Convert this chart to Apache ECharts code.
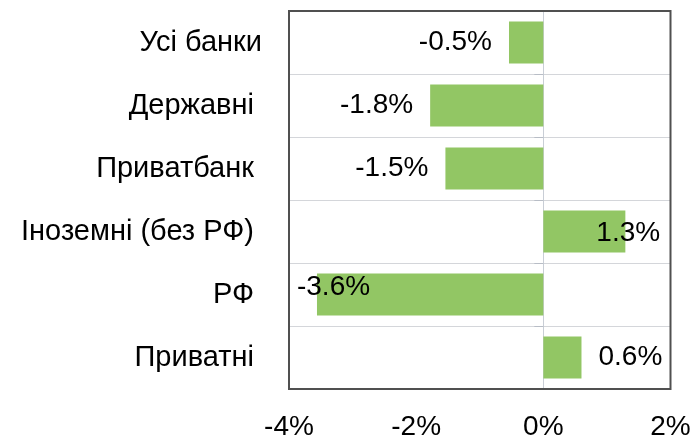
<!DOCTYPE html>
<html>
<head>
<meta charset="utf-8">
<script src="https://cdn.jsdelivr.net/npm/echarts@6/dist/echarts.min.js"></script>
<style>
  html, body { margin: 0; padding: 0; background: #fff; }
  #chart { width: 695px; height: 435px; }
</style>
</head>
<body>
<div id="chart"></div>
<script>
// категорії (з пробілами в кінці, як в оригіналі)
const categories = ['Усі банки', 'Державні ', 'Приватбанк ', 'Іноземні (без РФ) ', 'РФ ', 'Приватні ']
const values = [-0.54, -1.78, -1.54, 1.29, -3.56, 0.6]
const xTicks = [-4, -2, 0, 2]

const chart = echarts.init(document.getElementById('chart'))

const labelFont = {
  fontFamily: 'Liberation Sans, Arial, sans-serif',
  fontSize: 28,
  color: '#000',
}

// підписи значень: від'ємні ліворуч, додатні праворуч
const seriesData = values.map((v, i) => {
  const item = { value: v, label: { position: v < 0 ? 'left' : 'right', distance: 17 } }
  if (categories[i].trim() === 'РФ') {
    item.label = { position: 'insideLeft', distance: 5, offset: [-25, -7] }
  }
  if (v > 1) {
    item.label = { position: 'right', distance: 17, offset: [-46, 2] }
  }
  return item
})

chart.setOption({
  animation: false,
  grid: {
    left: 289,
    right: 24.5,
    top: 11,
    bottom: 46,
    outerBoundsMode: 'none',
    containLabel: false,
    show: true,
    borderColor: '#505050',
    borderWidth: 2,
    backgroundColor: 'transparent',
    z: 10,
  },
  xAxis: {
    type: 'value',
    min: xTicks[0],
    max: xTicks[xTicks.length - 1],
    interval: 2,
    axisLine: { show: false },
    axisTick: { show: false },
    splitLine: { show: false },
    axisLabel: {
      ...labelFont,
      margin: 24,
      formatter: (v) => v + '%',
    },
  },
  yAxis: [
    {
      type: 'category',
      data: categories,
      inverse: true,
      position: 'left',
      axisLine: { show: false, onZero: false },
      axisTick: { show: false },
      splitLine: { show: true, lineStyle: { color: '#d4d6da', width: 1 } },
      axisLabel: { ...labelFont, fontSize: 29, margin: 27 },
    },
    {
      // вісь на нулі з рисками
      type: 'category',
      data: categories,
      inverse: true,
      axisLine: { show: true, onZero: true, lineStyle: { color: '#c9ced6', width: 1 } },
      axisTick: { show: true, inside: true, length: 9, lineStyle: { color: '#b8bdc6' } },
      axisLabel: { show: false },
      splitLine: { show: false },
    },
  ],
  series: [
    {
      type: 'bar',
      yAxisIndex: 0,
      data: seriesData,
      barCategoryGap: '33%',
      itemStyle: { color: '#92c664' },
      label: {
        show: true,
        ...labelFont,
        formatter: (p) => p.value.toFixed(1) + '%',
      },
    },
  ],
})
</script>
</body>
</html>
